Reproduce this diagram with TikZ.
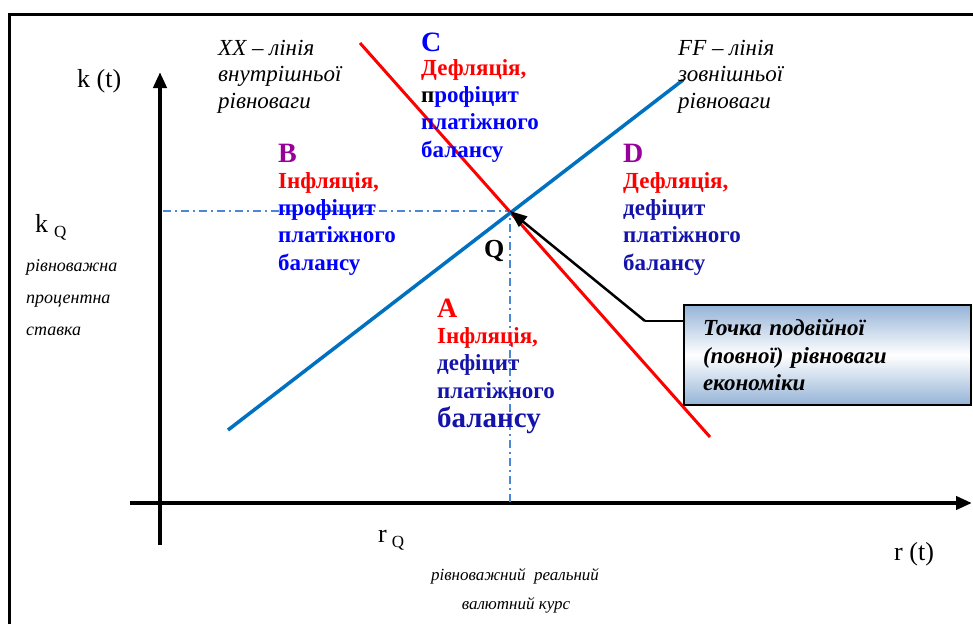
\documentclass[tikz,border=0pt]{standalone}
\usepackage{fontspec}
\setmainfont{Liberation Serif}
\usetikzlibrary{arrows.meta, positioning, calc}
\definecolor{ffblue}{RGB}{0,112,192}
\definecolor{xxred}{RGB}{255,0,0}
\definecolor{profblue}{RGB}{0,0,255}
\definecolor{defblue}{RGB}{20,20,170}
\definecolor{regpurple}{RGB}{153,0,153}
\definecolor{guideblue}{RGB}{75,135,210}
\definecolor{boxblue}{RGB}{149,179,215}

\begin{document}
\begin{tikzpicture}[x=1pt, y=-1pt,
  axis/.style={line width=4pt, -{Triangle[length=16pt,width=13pt]}},
  guide/.style={guideblue, line width=1.6pt, dash pattern=on 8pt off 4pt on 2pt off 4pt},
  regletter/.style={anchor=base west, inner sep=0pt, font=\fontsize{28}{28}\selectfont\bfseries},
  regtxt/.style={anchor=base west, inner sep=0pt, align=left, font=\fontsize{23}{27.3}\selectfont\bfseries},
  lineinfo/.style={anchor=base west, inner sep=0pt, align=left, font=\fontsize{23}{26.5}\selectfont\itshape},
  axislbl/.style={anchor=base west, inner sep=0pt, font=\fontsize{26}{26}\selectfont},
  smallit/.style={inner sep=0pt, font=\fontsize{17}{17}\selectfont\itshape},
  callout/.style={draw, line width=1.2pt, top color=boxblue, bottom color=boxblue, middle color=white,
    minimum width=287pt, minimum height=100pt, text width=249pt, inner xsep=19pt, align=left,
    font=\fontsize{23}{27.5}\selectfont\bfseries\itshape}
]
  \useasboundingbox (0,0) rectangle (973,624);
  \draw[line width=3pt] (9,624) -- (9,14) -- (973,14);

  % axes
  \coordinate (O) at (160,503);
  \coordinate (ytop) at (160,72);
  \coordinate (ybot) at (160,545);
  \coordinate (xleft) at (130,503);
  \coordinate (xright) at (972,503);
  \draw[axis] (ybot) -- (ytop);
  \draw[axis] (xleft) -- (xright);

  % equilibrium point and guides
  \coordinate (Q) at (510,211);
  \draw[guide] (163,211) -- (Q) -- (Q |- O);

  % XX and FF lines
  \coordinate (xxtop) at (360,43);
  \coordinate (xxbot) at (710,437);
  \coordinate (fflow) at (228,430);
  \coordinate (ffhigh) at (683,80);
  \draw[xxred, line width=3pt] (xxtop) -- (xxbot);
  \draw[ffblue, line width=3.5pt] (fflow) -- (ffhigh);

  % callout
  \node[callout] (note) at (827.5,355) {Точка подвійної\\(повної) рівноваги\\економіки};
  \coordinate (elbow) at (645,321);
  \draw[line width=1.2pt] (note.west |- elbow) -- (elbow);
  \draw[line width=2.5pt, -{Triangle[length=17pt,width=13pt]}] (elbow) -- (Q);

  % line labels (anchored at the last baseline)
  \node[lineinfo] (xxlbl) at (218,108) {XX – лінія\\внутрішньої\\рівноваги};
  \node[lineinfo] (fflbl) at (678,108) {FF – лінія\\зовнішньої\\рівноваги};

  % regions
  \node[regletter, profblue] (letC) at (421,51) {C};
  \node[regtxt, profblue] (txtC) at (421,157) {\textcolor{xxred}{Дефляція,}\\\textcolor{black}{п}рофіцит\\платіжного\\балансу};
  \node[regletter, regpurple] (letB) at (278,162) {B};
  \node[regtxt, profblue] (txtB) at (278,270) {\textcolor{xxred}{Інфляція,}\\профіцит\\платіжного\\балансу};
  \node[regletter, regpurple] (letD) at (623,162) {D};
  \node[regtxt, defblue] (txtD) at (623,270) {\textcolor{xxred}{Дефляція,}\\дефіцит\\платіжного\\балансу};
  \node[regletter, xxred] (letA) at (437,317) {A};
  \node[regtxt, defblue] (txtA) at (437,427) {\textcolor{xxred}{Інфляція,}\\дефіцит\\платіжного\\[1.7pt]{\fontsize{29}{29}\selectfont балансу}};
  \node[anchor=base west, inner sep=0pt, font=\fontsize{26}{26}\selectfont\bfseries] (qlbl) at (484,257) {Q};

  % axis labels
  \node[axislbl] (klbl) at (77,87) {k (t)};
  \node[axislbl] (kq) at (35,232) {k\hspace{6pt}\raisebox{-5pt}{\fontsize{17}{17}\selectfont Q}};
  \node[smallit, anchor=base west, align=left, font=\fontsize{18}{32}\selectfont\itshape] (kqnote) at (26,335) {рівноважна\\процентна\\ставка};
  \node[axislbl] (rq) at (378,542) {r\hspace{5pt}\raisebox{-5pt}{\fontsize{17}{17}\selectfont Q}};
  \node[axislbl] (rt) at (894,560) {r (t)};
  \node[smallit, anchor=base] (rqnote) at (515,580) {рівноважний\ \ реальний};
  \node[smallit, anchor=base] (rqnote2) at (516,609) {валютний курс};
\end{tikzpicture}
\end{document}
